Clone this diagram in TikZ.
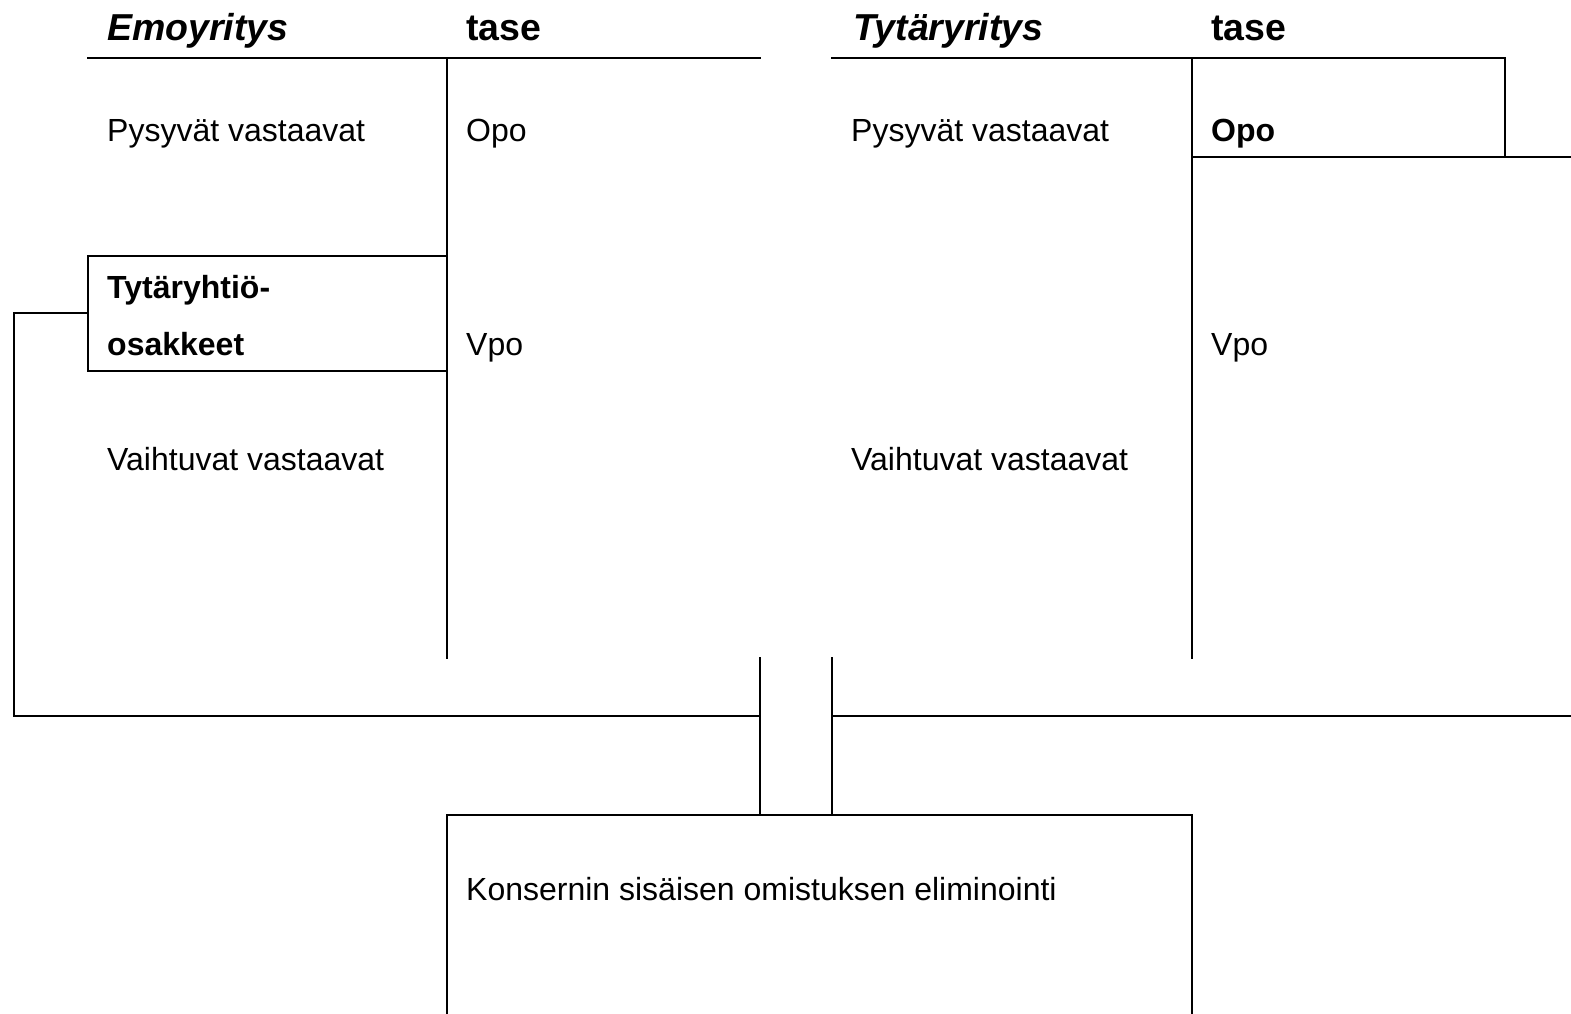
\documentclass[tikz,border=0pt]{standalone}
\usepackage{fontspec}
\setmainfont{Liberation Sans}
\begin{document}
\begin{tikzpicture}[x=1pt,y=-1pt,
  ln/.style={line width=2pt, line cap=rect},
  txt/.style={anchor=base west, inner sep=0pt, font=\fontsize{32}{38}\selectfont},
  btxt/.style={txt, font=\fontsize{32}{38}\selectfont\bfseries},
  btitle/.style={txt, font=\fontsize{37.5}{44}\selectfont\bfseries},
  ititle/.style={txt, font=\fontsize{37.5}{44}\selectfont\bfseries\itshape}]
\useasboundingbox (0,0) rectangle (1571,1013);
% left balance sheet
\draw[ln] (88,58) -- (760,58);
\draw[ln] (447,58) -- (447,658);
\draw[ln] (447,256) -- (88,256) -- (88,371) -- (447,371);
% right balance sheet
\draw[ln] (832,58) -- (1505,58) -- (1505,157);
\draw[ln] (1192,157) -- (1571,157);
\draw[ln] (1192,58) -- (1192,658);
% connectors
\draw[ln] (88,313) -- (14,313) -- (14,716) -- (760,716);
\draw[ln] (760,658) -- (760,815);
\draw[ln] (832,658) -- (832,815);
\draw[ln] (832,716) -- (1571,716);
% bottom box
\draw[ln] (447,1013) -- (447,815) -- (1192,815) -- (1192,1013);
% texts
\node[ititle] (t1) at (107,40) {Emoyritys};
\node[btitle] (t2) at (466,40) {tase};
\node[ititle] (t3) at (853,40) {Tytäryritys};
\node[btitle] (t4) at (1211,40) {tase};
\node[txt] (a1) at (107,141) {Pysyvät vastaavat};
\node[txt] (a2) at (466,141) {Opo};
\node[txt] (a3) at (851,141) {Pysyvät vastaavat};
\node[btxt] (a4) at (1211,141) {Opo};
\node[btxt] (b1) at (107,298) {Tytäryhtiö-};
\node[btxt] (b2) at (107,355) {osakkeet};
\node[txt] (b3) at (466,355) {Vpo};
\node[txt] (b4) at (1211,355) {Vpo};
\node[txt] (c1) at (107,470) {Vaihtuvat vastaavat};
\node[txt] (c2) at (851,470) {Vaihtuvat vastaavat};
\node[txt] (d1) at (466,900) {Konsernin sisäisen omistuksen eliminointi};
\end{tikzpicture}
\end{document}
